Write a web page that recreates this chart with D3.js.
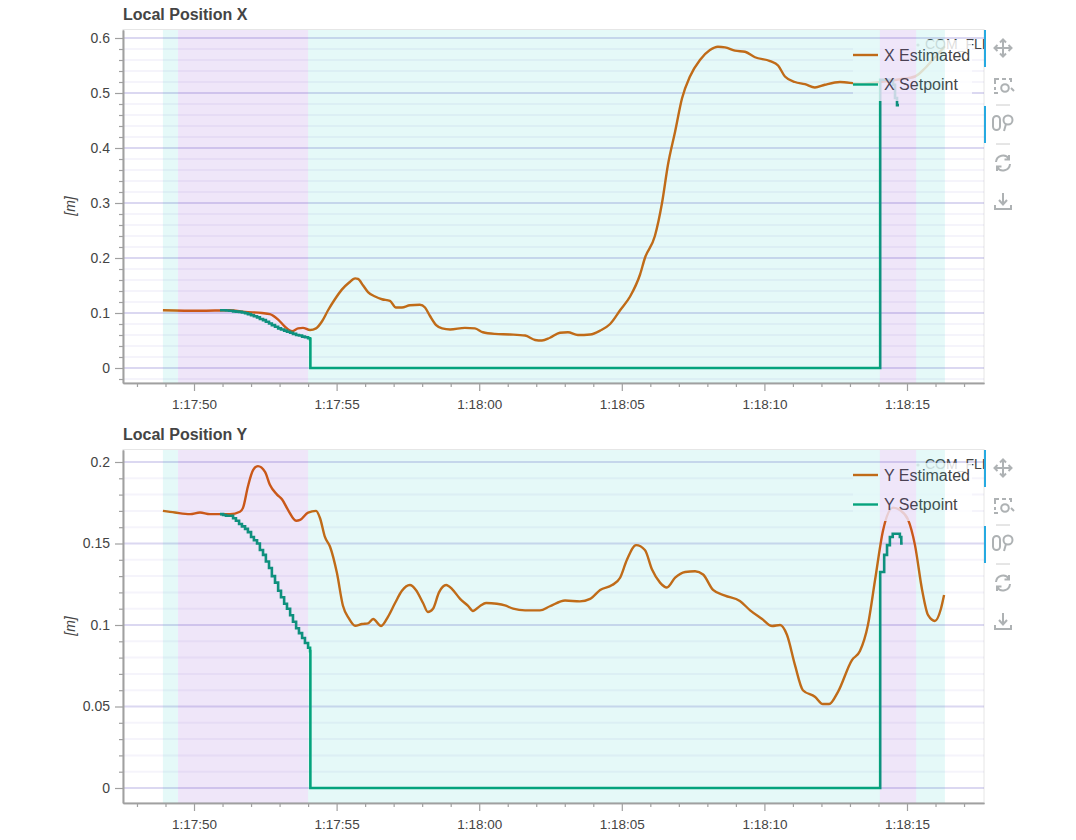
<!DOCTYPE html>
<html><head><meta charset="utf-8">
<script src="https://cdnjs.cloudflare.com/ajax/libs/d3/7.8.5/d3.min.js"></script>
<style>html,body{margin:0;padding:0;background:#fff}svg{display:block}text{font-family:"Liberation Sans",Arial,sans-serif}</style>
</head><body><div id="chart"></div>
<script>
// time is seconds after 1:17:50
const xTickTimes=[0,5,10,15,20,25];
const xTickLabels=["1:17:50","1:17:55","1:18:00","1:18:05","1:18:10","1:18:15"];
const modeBands=[[-1.09,-0.56,"c"],[-0.56,4.0,"p"],[4.0,24.05,"c"],[24.05,25.32,"p"],[25.32,26.33,"c"]];

const xEstT=[-1.09,0.21,1.26,1.79,2.38,2.66,2.95,3.19,3.44,3.65,3.82,4.07,4.28,4.49,4.70,4.94,5.19,5.43,5.65,5.75,5.93,6.10,6.35,6.59,6.87,7.08,7.29,7.57,7.92,8.10,8.27,8.49,8.70,8.98,9.50,9.85,10.13,10.55,11.08,11.61,11.96,12.20,12.48,12.83,13.11,13.46,13.89,14.24,14.59,14.94,15.29,15.64,15.81,16.16,16.41,16.62,16.87,17.11,17.39,17.74,18.09,18.37,18.62,18.97,19.32,19.67,20.20,20.48,20.72,21.07,21.42,21.77,22.12,22.65,23.35,24.05,24.75,25.28,25.63,25.98,26.33];
const xEstV=[.105,.104,.105,.102,.100,.098,.088,.075,.067,.072,.073,.069,.072,.085,.105,.125,.143,.155,.163,.162,.150,.138,.130,.125,.122,.110,.110,.114,.115,.110,.095,.078,.072,.070,.073,.072,.065,.062,.061,.059,.051,.050,.055,.064,.065,.060,.061,.068,.080,.105,.130,.170,.200,.240,.300,.370,.430,.490,.530,.560,.578,.584,.583,.577,.575,.565,.558,.550,.530,.520,.516,.510,.515,.520,.517,.520,.525,.530,.545,.565,.585];

const yEstT=[-1.09,-0.67,-0.14,0.21,0.56,0.91,1.26,1.61,1.72,1.89,2.07,2.24,2.49,2.66,2.91,3.09,3.30,3.58,3.72,4.0,4.28,4.42,4.59,4.77,5.01,5.22,5.43,5.65,5.89,6.10,6.28,6.56,6.80,7.05,7.29,7.57,7.78,8.03,8.20,8.38,8.59,8.84,9.05,9.33,9.61,9.78,10.03,10.24,10.62,10.90,11.19,11.61,12.13,12.48,13.01,13.53,13.89,14.24,14.66,14.94,15.18,15.50,15.81,16.06,16.34,16.58,16.87,17.22,17.57,17.85,18.20,18.62,19.14,19.50,19.92,20.27,20.55,20.79,21.07,21.35,21.77,22.05,22.27,22.58,23.07,23.35,23.63,23.88,24.16,24.51,24.75,25.04,25.28,25.53,25.74,25.98,26.19,26.30];
const yEstV=[.170,.169,.168,.169,.168,.168,.168,.1695,.172,.185,.195,.1975,.194,.186,.180,.177,.1705,.164,.1645,.169,.170,.1655,.154,.148,.132,.112,.104,.0995,.1006,.101,.1037,.0994,.105,.1135,.121,.1245,.1215,.1135,.108,.110,.120,.1245,.122,.116,.1117,.1086,.1117,.1135,.113,.112,.110,.109,.109,.1115,.115,.1145,.116,.1215,.1245,.129,.140,.149,.146,.134,.126,.123,.129,.1325,.133,.131,.1215,.118,.1147,.109,.1037,.0994,.100,.094,.0755,.060,.056,.0515,.0515,.059,.0785,.084,.100,.1276,.158,.172,.1705,.1645,.149,.1215,.106,.1025,.110,.1184];

const xSpT=[0.91,1.02,1.12,1.23,1.37,1.47,1.58,1.68,1.79,1.89,2.0,2.1,2.21,2.31,2.42,2.52,2.63,2.73,2.84,2.95,3.05,3.16,3.26,3.37,3.47,3.58,3.68,3.79,3.89,4.0,4.07,4.08,24.05,24.06,24.51,24.58,24.65,24.72];
const xSpV=[.105,.105,.1045,.104,.103,.1025,.102,.101,.0995,.098,.096,.094,.092,.089,.087,.084,.081,.078,.075,.072,.070,.068,.066,.064,.062,.060,.059,.057,.056,.054,.052,0,0,.524,.515,.491,.478,.478];

const ySpT=[0.91,1.02,1.12,1.23,1.37,1.47,1.58,1.68,1.79,1.89,2.0,2.1,2.21,2.31,2.42,2.52,2.63,2.73,2.84,2.95,3.05,3.16,3.26,3.37,3.47,3.58,3.68,3.79,3.89,4.0,4.07,4.08,24.05,24.06,24.2,24.3,24.4,24.5,24.75,24.8,24.85];
const ySpV=[.168,.1675,.167,.167,.1655,.164,.162,.1605,.159,.157,.154,.152,.150,.146,.143,.139,.135,.130,.126,.121,.117,.113,.110,.106,.102,.098,.095,.092,.089,.086,.084,0,0,.1325,.143,.149,.154,.156,.154,.150,.150];

const panels=[
 {title:"Local Position X",top:30,zero:368,pxPerUnit:550,legendInset:10,majors:[0,.1,.2,.3,.4,.5,.6],labels:["0","0.1","0.2","0.3","0.4","0.5","0.6"],minorStep:.02,est:[xEstT,xEstV],sp:[xSpT,xSpV],names:["X Estimated","X Setpoint"]},
 {title:"Local Position Y",top:450,zero:788,pxPerUnit:1630,legendInset:13,majors:[0,.05,.1,.15,.2],labels:["0","0.05","0.1","0.15","0.2"],minorStep:.01,est:[yEstT,yEstV],sp:[ySpT,ySpV],names:["Y Estimated","Y Setpoint"]}
];

const W=1076,H=840,left=123,right=984,plotH=353;
const ORANGE="#D55E00",GREEN="#009E73",AXIS="#a0a0a0",TXT="#444";
const svg=d3.select("#chart").append("svg").attr("width",W).attr("height",H);
const x=d3.scaleLinear().domain([-2.49,27.70]).range([left,right]);

panels.forEach((p,pi)=>{
  const bottom=p.top+plotH;
  const y=d3.scaleLinear().domain([(p.zero-bottom)/p.pxPerUnit,(p.zero-p.top)/p.pxPerUnit]).range([bottom,p.top]);
  const clipId="clip"+pi;
  svg.append("clipPath").attr("id",clipId).append("rect").attr("x",left).attr("y",p.top).attr("width",right-left).attr("height",plotH);
  const g=svg.append("g");
  g.append("rect").attr("x",left).attr("y",p.top-.5).attr("width",right-left).attr("height",plotH).attr("fill","none").attr("stroke","#e6e6e6");
  const plot=g.append("g").attr("clip-path",`url(#${clipId})`);
  const [d0,d1]=y.domain();
  const minors=d3.range(Math.ceil(d0/p.minorStep-1e-6),Math.floor(d1/p.minorStep+1e-6)+1).map(i=>i*p.minorStep)
     .filter(v=>!p.majors.some(m=>Math.abs(m-v)<1e-6));
  plot.selectAll("line.minor").data(minors).join("line").attr("class","minor")
    .attr("x1",left).attr("x2",right).attr("y1",d=>y(d)).attr("y2",d=>y(d))
    .attr("stroke","rgb(110,100,200)").attr("stroke-opacity",.07).attr("stroke-width",2);
  plot.selectAll("line.major").data(p.majors).join("line").attr("class","major")
    .attr("x1",left).attr("x2",right).attr("y1",d=>y(d)).attr("y2",d=>y(d))
    .attr("stroke","rgb(110,100,200)").attr("stroke-opacity",.25).attr("stroke-width",2);
  const est=d3.line().x(d=>x(d[0])).y(d=>y(d[1])).curve(d3.curveMonotoneX);
  const sp=d3.line().x(d=>x(d[0])).y(d=>y(d[1])).curve(d3.curveStepAfter);
  plot.append("path").attr("d",est(d3.zip(p.est[0],p.est[1]))).attr("fill","none").attr("stroke",ORANGE).attr("stroke-width",2.4).attr("stroke-linejoin","round");
  plot.append("path").attr("d",sp(d3.zip(p.sp[0],p.sp[1]))).attr("fill","none").attr("stroke",GREEN).attr("stroke-width",2.6);
  // annotation
  plot.append("circle").attr("cx",918).attr("cy",p.top+15).attr("r",1.6).attr("fill","#888");
  plot.append("text").attr("x",925).attr("y",p.top+19).attr("font-size",14).attr("fill",TXT).text("COM_FLIGHT");
  // legend, sits under the translucent mode bands
  plot.append("rect").attr("x",853).attr("y",p.top+p.legendInset).attr("width",119).attr("height",71-p.legendInset).attr("fill","#fff").attr("fill-opacity",.82);
  p.names.forEach((n,i)=>{
    const ly=p.top+25+i*29.5;
    plot.append("line").attr("x1",853).attr("x2",878).attr("y1",ly).attr("y2",ly).attr("stroke",i?GREEN:ORANGE).attr("stroke-width",2.4);
    plot.append("text").attr("x",884).attr("y",ly+5.5).attr("font-size",16).attr("fill",TXT).text(n);
  });
  plot.selectAll("rect.band").data(modeBands).join("rect").attr("class","band")
    .attr("x",d=>x(d[0])).attr("width",d=>x(d[1])-x(d[0])).attr("y",p.top).attr("height",plotH)
    .attr("fill",d=>d[2]=="c"?"rgb(38,205,197)":"rgb(122,47,205)").attr("fill-opacity",.12);
  // axes
  const styleAxis=a=>{a.selectAll("path.domain").attr("stroke",AXIS).attr("stroke-width",1.6);a.selectAll("line").attr("stroke",AXIS).attr("stroke-width",1.2);};
  const ax=g.append("g").attr("transform",`translate(0,${bottom})`)
    .call(d3.axisBottom(x).tickValues(xTickTimes).tickSize(8).tickSizeOuter(0).tickPadding(8).tickFormat((d,i)=>xTickLabels[i]));
  const minorX=d3.range(-2,28).filter(t=>!xTickTimes.includes(t));
  g.append("g").attr("transform",`translate(0,${bottom})`)
    .call(d3.axisBottom(x).tickValues(minorX).tickSize(4).tickSizeOuter(0).tickFormat(""))
    .call(styleAxis);
  ax.call(styleAxis);
  ax.selectAll("text").attr("font-size",13.5).attr("fill",TXT);
  const ay=g.append("g").attr("transform",`translate(${left},0)`)
    .call(d3.axisLeft(y).tickValues(p.majors).tickSize(8).tickSizeOuter(0).tickPadding(5).tickFormat((d,i)=>p.labels[i]));
  g.append("g").attr("transform",`translate(${left},0)`)
    .call(d3.axisLeft(y).tickValues(minors).tickSize(4).tickSizeOuter(0).tickFormat(""))
    .call(styleAxis);
  ay.call(styleAxis);
  ay.selectAll("text").attr("font-size",14).attr("fill",TXT);
  g.append("text").attr("x",left).attr("y",p.top-10).attr("font-size",16).attr("font-weight","bold").attr("fill",TXT).text(p.title);
  g.append("text").attr("transform",`translate(75,${p.top+176}) rotate(-90)`).attr("text-anchor","middle").attr("font-size",14).attr("font-style","italic").attr("fill",TXT).text("[m]");
  // toolbar
  const tb=g.append("g").attr("transform",`translate(0,${p.top})`);
  [[0,37],[76,37]].forEach(b=>tb.append("rect").attr("x",984).attr("y",b[0]).attr("width",2).attr("height",b[1]).attr("fill","#26aae1"));
  [75,114].forEach(s=>tb.append("line").attr("x1",996).attr("x2",1010).attr("y1",s).attr("y2",s).attr("stroke","#ccc"));
  const ic=(cy,d)=>tb.append("path").attr("transform",`translate(1003,${cy})`).attr("d",d).attr("fill","none").attr("stroke","#aeb2b4").attr("stroke-width",2);
  ic(18,"M0,-8V8M-8,0H8M-3,-5.5L0,-8.5L3,-5.5M-3,5.5L0,8.5L3,5.5M-5.5,-3L-8.5,0L-5.5,3M5.5,-3L8.5,0L5.5,3");
  tb.append("path").attr("transform","translate(1003,56)").attr("d","M-8,-2V-7H-4M-1,-7H3M6,-7H8V-4M-8,1V4M-8,6V7H-5").attr("fill","none").attr("stroke","#aeb2b4").attr("stroke-width",2);
  tb.append("circle").attr("cx",1005).attr("cy",58).attr("r",3.8).attr("fill","none").attr("stroke","#aeb2b4").attr("stroke-width",2);
  ic(56,"M8,2 L11,5");
  tb.append("rect").attr("x",993).attr("y",86).attr("width",7).attr("height",14).attr("rx",3.5).attr("fill","none").attr("stroke","#aeb2b4").attr("stroke-width",2);
  tb.append("circle").attr("cx",1008).attr("cy",90).attr("r",4.5).attr("fill","none").attr("stroke","#aeb2b4").attr("stroke-width",2);
  ic(93,"M3,1 L1,8");
  ic(133,"M-7,-1A7,7 0 0 1 6,-4M7,1A7,7 0 0 1 -6,4M6,-8V-3.5H1.5M-6,8V3.5H-1.5");
  ic(171,"M0,-8V3M-4,-1L0,3.5L4,-1M-8,4V8H8V4");
});
</script></body></html>
